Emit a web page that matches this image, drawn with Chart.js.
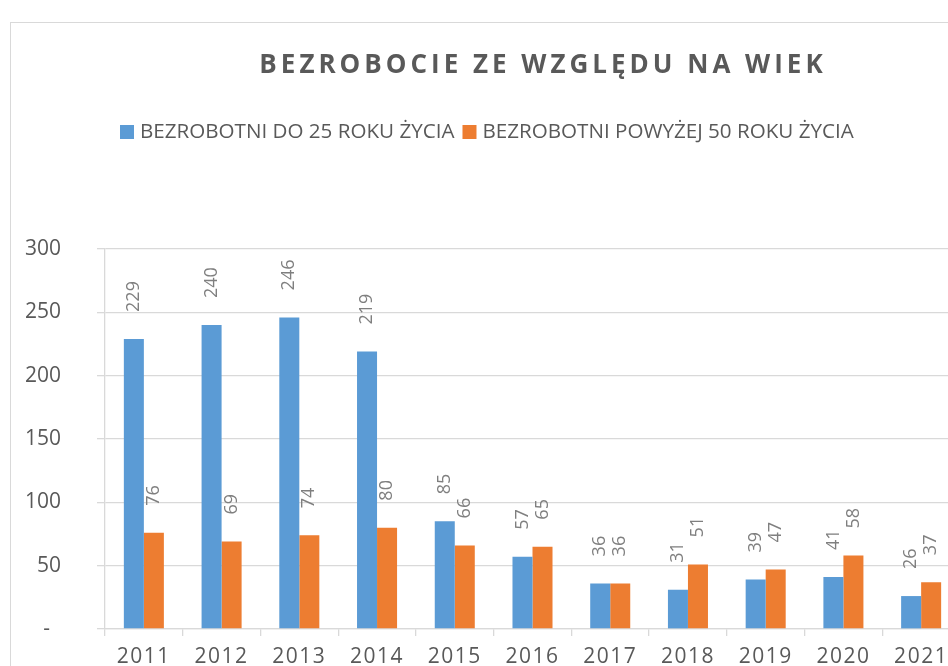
<!DOCTYPE html>
<html lang="pl">
<head>
<meta charset="utf-8">
<title>Bezrobocie ze względu na wiek</title>
<script src="https://cdn.jsdelivr.net/npm/chart.js@4/dist/chart.umd.min.js"></script>
<style>
  html, body { margin: 0; padding: 0; background: #fff; overflow: hidden; }
  #frame { position: absolute; left: 10px; top: 22px; width: 1100px; height: 800px; border: 1px solid #d9d9d9; }
  #wrap { position: absolute; left: 0; top: 0; width: 1000px; height: 666px; }
</style>
</head>
<body>
<div id="frame"></div>
<div id="wrap"><canvas id="bezrobocieChart" width="1000" height="666"></canvas></div>
<script>
// dane
const tytul = 'BEZROBOCIE ZE WZGLĘDU NA WIEK';
const lata = ['2011', '2012', '2013', '2014', '2015', '2016', '2017', '2018', '2019', '2020', '2021'];
const do25 = [229, 240, 246, 219, 85, 57, 36, 31, 39, 41, 26];
const pow50 = [76, 69, 74, 80, 66, 65, 36, 51, 47, 58, 37];
const serie = ['BEZROBOTNI DO 25 ROKU ŻYCIA', 'BEZROBOTNI POWYŻEJ 50 ROKU ŻYCIA'];
const osY = [0, 50, 100, 150, 200, 250, 300];

const niebieski = '#5b9bd5';
const pomaranczowy = '#ed7d31';
const siatka = '#d9d9d9';
const tekst = '#595959';

// tytuł i legenda rysowane ręcznie (odstępy liter jak w Excelu)
const naglowek = {
    id: 'naglowek',
    afterDraw(chart) {
        const ctx = chart.ctx;
        ctx.save();
        ctx.fillStyle = tekst;
        ctx.font = "bold 26px 'Open Sans'";
        ctx.letterSpacing = '4px';
        ctx.textAlign = 'center';
        ctx.textBaseline = 'middle';
        ctx.fillText(tytul, 543, 66);

        ctx.letterSpacing = '0px';
        ctx.font = "20.6px 'Open Sans'";
        ctx.textAlign = 'left';
        const kolory = [niebieski, pomaranczowy];
        const szer = serie.map(s => ctx.measureText(s).width);
        let x = 120;
        serie.forEach((s, i) => {
            ctx.fillStyle = kolory[i];
            ctx.fillRect(x, 125, 14, 14);
            x += 20;
            ctx.fillStyle = tekst;
            ctx.fillText(s, x, 132);
            x += szer[i] + 8;
        });
        ctx.restore();
    }
};

// etykiety danych obrócone o 90 stopni nad słupkami
const etykiety = {
    id: 'etykiety',
    afterDatasetsDraw(chart) {
        const ctx = chart.ctx;
        ctx.save();
        ctx.fillStyle = '#7f7f7f';
        ctx.font = "18px 'Open Sans'";
        ctx.textAlign = 'left';
        ctx.textBaseline = 'middle';
        chart.data.datasets.forEach((ds, i) => {
            chart.getDatasetMeta(i).data.forEach((bar, j) => {
                ctx.save();
                ctx.translate(bar.x, bar.y - 27);
                ctx.rotate(-Math.PI / 2);
                ctx.fillText(String(ds.data[j]), 0, 0);
                ctx.restore();
            });
        });
        ctx.restore();
        // podpisy lat (z: 1) rysują się zaraz potem, z lekkim rozstrzeleniem
        ctx.letterSpacing = '1.5px';
    }
};

const ctx = document.getElementById('bezrobocieChart').getContext('2d');
const bezrobocieChart = new Chart(ctx, {
    type: 'bar',
    data: {
        labels: lata,
        datasets: [{
            label: serie[0],
            data: do25,
            backgroundColor: niebieski
        }, {
            label: serie[1],
            data: pow50,
            backgroundColor: pomaranczowy
        }]
    },
    options: {
        responsive: false,
        animation: false,
        layout: { padding: { top: 249, left: 25, right: 40, bottom: 0 } },
        categoryPercentage: 0.515,
        barPercentage: 1.0,
        plugins: {
            legend: { display: false },
            tooltip: { enabled: false }
        },
        scales: {
            x: {
                afterFit(scale) { scale.height = 37; },
                grid: { offset: true, drawOnChartArea: false, tickLength: 7, color: siatka, lineWidth: 1.3 },
                border: { display: true, color: siatka, width: 1.3 },
                ticks: { z: 1, color: tekst, padding: 8, font: { family: "'Open Sans'", size: 21 } }
            },
            y: {
                min: 0,
                max: 300,
                afterFit(scale) {
                    scale.width = 80;
                    // duży odstęp etykiet nie powinien zmniejszać obszaru wykresu
                    scale.paddingTop = 13;
                    scale.paddingBottom = 13;
                },
                afterBuildTicks(scale) { scale.ticks = osY.map(v => ({ value: v })); },
                grid: { color: siatka, lineWidth: 1.3, tickLength: 8 },
                border: { display: true, color: siatka, width: 1.3 },
                ticks: {
                    color: tekst,
                    padding: 36,
                    font: { family: "'Open Sans'", size: 21 },
                    callback: v => (v === 0 ? '-  ' : v)
                }
            }
        }
    },
    plugins: [naglowek, etykiety]
});
</script>
</body>
</html>
